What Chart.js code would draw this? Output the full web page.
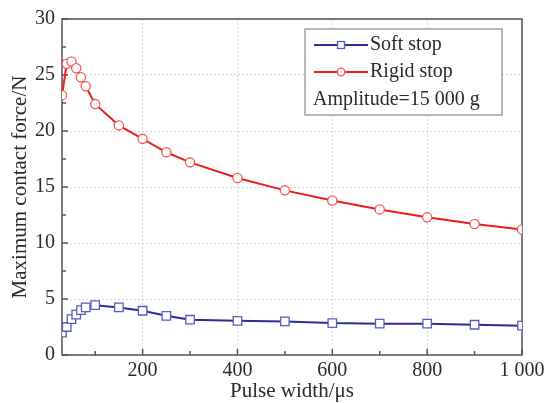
<!DOCTYPE html>
<html><head><meta charset="utf-8">
<script src="https://cdn.jsdelivr.net/npm/chart.js@4"></script>
<style>html,body{margin:0;padding:0;background:#fff}#wrap{width:549px;height:403px}</style>
</head><body><div id="wrap"><canvas id="c" width="549" height="403"></canvas></div>
<script>
const pulseWidth = [30,40,50,60,70,80,100,150,200,250,300,400,500,600,700,800,900,1000];
const softStop  = [2.0,2.5,3.2,3.6,4.0,4.25,4.45,4.25,3.95,3.5,3.15,3.05,3.0,2.85,2.8,2.8,2.7,2.62];
const rigidStop = [23.2,26.0,26.2,25.6,24.8,24.0,22.4,20.5,19.3,18.1,17.2,15.8,14.7,13.8,13.0,12.3,11.7,11.2];
const xTicks = [200,400,600,800,1000];
const xMinorTicks = [100,300,500,700,900];
const yTicks = [0,5,10,15,20,25,30];
const yMinorTicks = [2.5,7.5,12.5,17.5,22.5,27.5];
const seriesNames = ['Soft stop','Rigid stop'];
const noteText = 'Amplitude=15 000 g';

const FONT = '"Liberation Serif", "DejaVu Serif", serif';
const TXT = '#2a2a2a';
const AREA = {left:62, right:522, top:15, bottom:355};

const toPts = ys => pulseWidth.map((x,i)=>({x, y: ys[i]}));

const framePlugin = {
  id:'frame',
  beforeDatasetsDraw(chart){
    const {ctx, chartArea:a, scales:{x,y}} = chart;
    ctx.save();
    ctx.strokeStyle = '#555'; ctx.lineWidth = 1.5;
    ctx.beginPath();
    const tick = (px,len,vert)=>{
      if(vert){ ctx.moveTo(px,a.bottom); ctx.lineTo(px,a.bottom-len); }
      else { ctx.moveTo(a.left,px); ctx.lineTo(a.left+len,px); }
    };
    xTicks.forEach(v=>tick(x.getPixelForValue(v),6,true));
    xMinorTicks.forEach(v=>tick(x.getPixelForValue(v),4,true));
    yTicks.forEach(v=>tick(y.getPixelForValue(v),6,false));
    yMinorTicks.forEach(v=>tick(y.getPixelForValue(v),4,false));
    ctx.stroke();
    ctx.strokeRect(a.left, a.top, a.right-a.left, a.bottom-a.top);
    ctx.restore();
  }
};

const legendPlugin = {
  id:'boxLegend',
  afterDraw(chart){
    const {ctx} = chart;
    const bx=305, by=29, bw=197, bh=86;
    ctx.save();
    ctx.fillStyle='#fff'; ctx.fillRect(bx,by,bw,bh);
    ctx.strokeStyle='#888'; ctx.lineWidth=1.2; ctx.strokeRect(bx,by,bw,bh);
    ctx.font = '20px ' + FONT; ctx.fillStyle = TXT; ctx.textBaseline='middle'; ctx.textAlign='left';
    const rows=[45,72];
    chart.data.datasets.forEach((ds,i)=>{
      const yy=rows[i];
      ctx.strokeStyle=ds.borderColor; ctx.lineWidth=2;
      ctx.beginPath(); ctx.moveTo(314,yy); ctx.lineTo(368,yy); ctx.stroke();
      ctx.fillStyle='#fff'; ctx.strokeStyle=ds.pointBorderColor; ctx.lineWidth=1.3;
      if(ds.pointStyle==='rect'){ ctx.fillRect(337.5,yy-3.5,7,7); ctx.strokeRect(337.5,yy-3.5,7,7); }
      else { ctx.beginPath(); ctx.arc(341,yy,3.8,0,Math.PI*2); ctx.fill(); ctx.stroke(); }
      ctx.fillStyle=TXT;
      ctx.fillText(ds.label,370,yy);
    });
    ctx.fillText(noteText,313,100);
    ctx.restore();
  }
};

new Chart(document.getElementById('c'), {
  type:'line',
  data:{datasets:[
    {label:seriesNames[0], data:toPts(softStop), borderColor:'#2b2b9b', pointBorderColor:'#5a5ac0',
     pointBackgroundColor:'#fff', pointStyle:'rect', pointRadius:6, pointBorderWidth:1.3, borderWidth:2, tension:0},
    {label:seriesNames[1], data:toPts(rigidStop), borderColor:'#ec1c1c', pointBorderColor:'#ee5a52',
     pointBackgroundColor:'#fff', pointStyle:'circle', pointRadius:4.6, pointBorderWidth:1.3, borderWidth:2, tension:0}
  ]},
  options:{
    responsive:false, animation:false, devicePixelRatio:1,
    layout:{padding:{left:0, right:549-AREA.right, top:AREA.top, bottom:0}},
    plugins:{legend:{display:false}, tooltip:{enabled:false}},
    scales:{
      x:{type:'linear', min:30, max:1000,
        afterBuildTicks: s => { s.ticks = xTicks.map(v=>({value:v})); },
        afterFit: s => { s.height = 403 - AREA.bottom; },
        grid:{color:'#d6d6d6', lineWidth:1, drawTicks:false},
        border:{display:false, dash:[2,2]},
        ticks:{padding:4, color:TXT, font:{family:FONT,size:20}, maxRotation:0,
          callback:v => v===1000 ? '1 000' : String(v)},
        title:{display:true, text:'Pulse width/μs', color:TXT, font:{family:FONT,size:21}, padding:{top:0,bottom:-1}}
      },
      y:{min:0, max:30,
        afterBuildTicks: s => { s.ticks = yTicks.map(v=>({value:v})); },
        afterFit: s => { s.width = AREA.left; },
        grid:{color:'#d6d6d6', lineWidth:1, drawTicks:false},
        border:{display:false, dash:[2,2]},
        ticks:{padding:7, color:TXT, font:{family:FONT,size:20}},
        title:{display:true, text:'Maximum contact force/N', color:TXT, font:{family:FONT,size:21}, padding:{top:8,bottom:0}}
      }
    }
  },
  plugins:[framePlugin, legendPlugin]
});
</script></body></html>
